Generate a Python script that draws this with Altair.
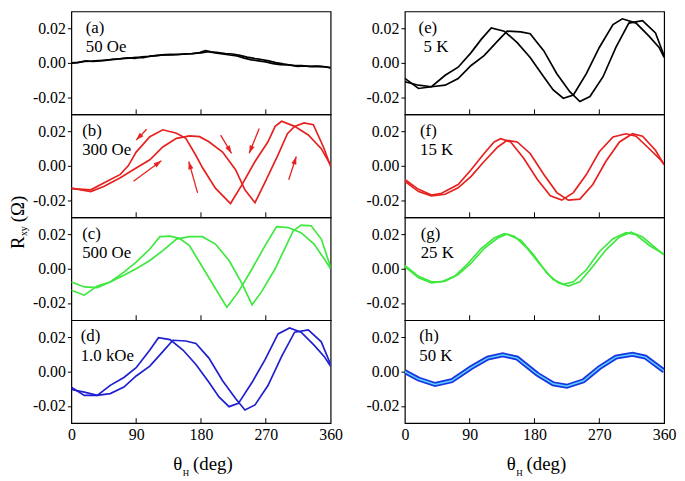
import math
import altair as alt
import pandas as pd

FONT = "Liberation Serif"
W, H = 262, 104
XDOM = [0, 360]
YDOM = [-0.03, 0.03]
XTICKS = [0, 90, 180, 270, 360]
INNER_TICKS = [90, 180, 270]
YTICKS = [-0.02, 0.0, 0.02]

BLACK = "#000000"
RED = "#e6211f"
GREEN = "#3ee83e"
BLUE = "#1f1fd0"
H_DARK = "#1a35e0"
H_LIGHT = "#5ad2ff"

# ---------------- data ----------------
# (a) 50 Oe
A1_DEG = [0, 10, 20, 30, 40, 50, 60, 70, 80, 90, 100, 110, 120, 130, 140, 150, 160, 170, 180, 190,
          200, 210, 220, 230, 240, 250, 260, 270, 280, 290, 300, 310, 320, 330, 340, 350, 360]
A1_VAL = [0.0000, 0.0003, 0.0012, 0.0008, 0.0012, 0.0018, 0.0020, 0.0025, 0.0028, 0.0032, 0.0030,
          0.0040, 0.0044, 0.0048, 0.0047, 0.0050, 0.0052, 0.0055, 0.0058, 0.0066, 0.0058, 0.0052,
          0.0046, 0.0040, 0.0028, 0.0018, 0.0012, 0.0006, -0.0004, -0.0010, -0.0012, -0.0016,
          -0.0015, -0.0020, -0.0018, -0.0022, -0.0028]
A2_DEG = [0, 8, 18, 28, 38, 48, 58, 68, 78, 88, 98, 108, 118, 128, 138, 148, 158, 168, 178, 186,
          194, 204, 214, 224, 234, 244, 254, 264, 274, 284, 294, 304, 314, 324, 334, 344, 354, 360]
A2_VAL = [-0.0002, 0.0002, 0.0008, 0.0010, 0.0014, 0.0015, 0.0022, 0.0024, 0.0030, 0.0026, 0.0036,
          0.0038, 0.0042, 0.0046, 0.0050, 0.0049, 0.0053, 0.0054, 0.0060, 0.0072, 0.0064, 0.0060,
          0.0055, 0.0052, 0.0044, 0.0034, 0.0026, 0.0020, 0.0012, 0.0002, -0.0006, -0.0012,
          -0.0020, -0.0018, -0.0022, -0.0020, -0.0024, -0.0030]

# (b) 300 Oe
B1_DEG = [0, 27, 45, 68, 79, 90, 109, 127, 146, 159, 173, 182, 200, 221, 237, 255, 273, 283, 292,
          310, 329, 347, 360]
B1_VAL = [-0.0133, -0.0140, -0.0100, -0.0050, 0.0000, 0.0080, 0.0170, 0.0210, 0.0190, 0.0160,
          0.0060, -0.0010, -0.0130, -0.0220, -0.0110, 0.0025, 0.0140, 0.0230, 0.0260, 0.0230,
          0.0180, 0.0100, 0.0005]
B2_DEG = [0, 27, 45, 68, 90, 109, 127, 146, 164, 178, 191, 210, 228, 241, 255, 269, 287, 300, 310,
          323, 336, 350, 360]
B2_VAL = [-0.0130, -0.0150, -0.0120, -0.0070, -0.0013, 0.0035, 0.0110, 0.0160, 0.0175, 0.0170,
          0.0140, 0.0080, -0.0023, -0.0140, -0.0215, -0.0095, 0.0064, 0.0187, 0.0230, 0.0250,
          0.0240, 0.0110, -0.0004]

# (c) 500 Oe
C1_DEG = [0, 18, 36, 54, 73, 90, 109, 123, 137, 150, 164, 182, 200, 216, 232, 251, 269, 285, 301,
          319, 337, 351, 360]
C1_VAL = [-0.0125, -0.0154, -0.0100, -0.0077, -0.0020, 0.0038, 0.0115, 0.0187, 0.0190, 0.0177,
          0.0135, 0.0010, -0.0115, -0.0225, -0.0135, 0.0000, 0.0135, 0.0246, 0.0240, 0.0210,
          0.0144, 0.0058, 0.0000]
C2_DEG = [0, 18, 36, 54, 73, 90, 109, 127, 146, 164, 182, 200, 219, 237, 251, 264, 283, 296, 308,
          319, 333, 347, 360]
C2_VAL = [-0.0077, -0.0106, -0.0110, -0.0077, -0.0038, 0.0000, 0.0048, 0.0106, 0.0173, 0.0187,
          0.0187, 0.0144, 0.0048, -0.0087, -0.0210, -0.0135, 0.0000, 0.0115, 0.0220, 0.0254,
          0.0250, 0.0173, 0.0010]

# (d) 1.0 kOe
D1_DEG = [0, 18, 36, 54, 73, 90, 109, 121, 137, 155, 173, 191, 205, 219, 232, 251, 269, 287, 303,
          319, 337, 351, 360]
D1_VAL = [-0.0090, -0.0138, -0.0138, -0.0080, -0.0034, 0.0023, 0.0126, 0.0198, 0.0187, 0.0126,
          0.0042, -0.0062, -0.0147, -0.0204, -0.0185, -0.0062, 0.0070, 0.0220, 0.0255, 0.0230,
          0.0155, 0.0089, 0.0032]
D2_DEG = [0, 18, 36, 54, 73, 90, 109, 127, 141, 159, 173, 191, 210, 228, 241, 255, 273, 292, 310,
          329, 347, 360]
D2_VAL = [-0.0104, -0.0119, -0.0138, -0.0128, -0.0090, -0.0025, 0.0032, 0.0117, 0.0183, 0.0179,
          0.0164, 0.0079, -0.0053, -0.0157, -0.0223, -0.0194, -0.0081, 0.0089, 0.0230, 0.0243,
          0.0174, 0.0042]

# (e) 5 K
E1_DEG = [0, 19, 37, 56, 74, 92, 106, 120, 138, 156, 174, 193, 206, 220, 234, 252, 270, 289, 302,
          321, 339, 353, 360]
E1_VAL = [-0.0090, -0.0149, -0.0139, -0.0072, -0.0025, 0.0060, 0.0137, 0.0204, 0.0185, 0.0118,
          0.0032, -0.0082, -0.0158, -0.0206, -0.0187, -0.0063, 0.0090, 0.0223, 0.0257, 0.0232,
          0.0156, 0.0090, 0.0032]
E2_DEG = [0, 19, 37, 56, 74, 92, 110, 129, 142, 161, 174, 193, 211, 229, 243, 257, 275, 293, 311,
          330, 348, 360]
E2_VAL = [-0.0110, -0.0130, -0.0139, -0.0130, -0.0091, -0.0015, 0.0042, 0.0128, 0.0185, 0.0181,
          0.0170, 0.0070, -0.0063, -0.0168, -0.0225, -0.0196, -0.0082, 0.0090, 0.0232, 0.0246,
          0.0175, 0.0042]

# (f) 15 K
F1_DEG = [0, 19, 37, 51, 74, 92, 110, 124, 133, 147, 165, 184, 202, 218, 234, 252, 270, 289, 307,
          321, 339, 353, 360]
F1_VAL = [-0.0080, -0.0137, -0.0170, -0.0160, -0.0109, -0.0023, 0.0072, 0.0139, 0.0158, 0.0139,
          0.0044, -0.0080, -0.0175, -0.0200, -0.0156, -0.0051, 0.0082, 0.0168, 0.0187, 0.0173,
          0.0101, 0.0044, 0.0010]
F2_DEG = [0, 19, 37, 56, 74, 92, 110, 129, 142, 156, 174, 193, 211, 227, 243, 261, 279, 298, 316,
          330, 348, 360]
F2_VAL = [-0.0090, -0.0150, -0.0175, -0.0166, -0.0128, -0.0061, 0.0025, 0.0110, 0.0149, 0.0139,
          0.0072, -0.0051, -0.0156, -0.0200, -0.0194, -0.0109, 0.0025, 0.0139, 0.0187, 0.0173,
          0.0091, 0.0006]

# (g) 25 K
G1_DEG = [0, 19, 37, 51, 69, 88, 106, 124, 138, 152, 170, 188, 206, 220, 234, 252, 270, 289, 307,
          321, 339, 360]
G1_VAL = [0.0019, -0.0044, -0.0076, -0.0076, -0.0044, 0.0032, 0.0118, 0.0179, 0.0204, 0.0190,
          0.0118, 0.0023, -0.0063, -0.0091, -0.0076, -0.0006, 0.0099, 0.0175, 0.0210, 0.0198,
          0.0137, 0.0084]
G2_DEG = [0, 19, 37, 56, 74, 92, 110, 129, 142, 161, 179, 197, 213, 227, 243, 261, 279, 298, 314,
          330, 348, 360]
G2_VAL = [0.0013, -0.0053, -0.0082, -0.0072, -0.0034, 0.0032, 0.0118, 0.0179, 0.0202, 0.0166,
          0.0080, -0.0025, -0.0082, -0.0101, -0.0076, 0.0013, 0.0109, 0.0185, 0.0213, 0.0185,
          0.0122, 0.0080]

# (h) 50 K
H_DEG = [0, 19, 42, 65, 92, 115, 136, 156, 184, 206, 225, 248, 270, 293, 316, 334, 360]
H_VAL = [0.0000, -0.0043, -0.0075, -0.0053, 0.0023, 0.0079, 0.0098, 0.0079, -0.0015, -0.0071,
         -0.0085, -0.0053, 0.0023, 0.0085, 0.0101, 0.0085, 0.0004]

LABELS = ["(a)", "(b)", "(c)", "(d)", "(e)", "(f)", "(g)", "(h)"]
SUBS = ["50 Oe", "300 Oe", "500 Oe", "1.0 kOe", "5 K", "15 K", "25 K", "50 K"]
LABEL_X = [20, 15, 15, 13, 19, 21, 22, 20]
SUB_X = [20, 15, 15, 13, 26, 21, 22, 20]
LABEL_Y = 0.0205
SUB_Y = 0.0090

# arrows in (b): tail -> tip
ARROW_X0 = [104.6, 86.3, 175.3, 207.3, 260.8, 301.8]
ARROW_Y0 = [0.0213, -0.0090, -0.0158, 0.0179, 0.0217, -0.0081]
ARROW_X1 = [90.0, 125.0, 163.0, 222.4, 247.0, 312.3]
ARROW_Y1 = [0.0150, 0.0029, 0.0025, 0.0073, 0.0073, 0.0054]

YTITLE = ["R", "xy", "(Ω)"]
XTITLE = ["θ", "H", "(deg)"]

# ---------------- helpers ----------------
xscale = alt.Scale(domain=XDOM, nice=False, zero=False)
yscale = alt.Scale(domain=YDOM, nice=False, zero=False)

Y_LABEL_EXPR = ("datum.value < 0 ? '-' + format(-datum.value, '.2f') : "
                "format(datum.value, '.2f')")


def axes(bottom):
    if bottom:
        xa = alt.Axis(values=XTICKS, ticks=False, domain=False, grid=False, labelFontSize=16,
                      labelFont=FONT, labelPadding=4, labelFlush=False, labelColor="black",
                      labelOverlap=False, title=None, format="d")
    else:
        xa = None
    ya = alt.Axis(values=YTICKS, tickSize=4, tickColor="black", tickWidth=1, domain=False,
                  grid=False, labelFontSize=16, labelFont=FONT, labelPadding=2,
                  labelColor="black", labelFlush=False, labelOverlap=False, title=None,
                  labelExpr=Y_LABEL_EXPR)
    return xa, ya


def enc(ch, xa, ya, xf="deg", yf="val"):
    return ch.encode(
        x=alt.X(f"{xf}:Q", scale=xscale, axis=xa),
        y=alt.Y(f"{yf}:Q", scale=yscale, axis=ya),
    )


def panel(idx, curves, color, bottom, width=1.7, light=None, extra=None):
    xa, ya = axes(bottom)
    rows = []
    for ci, (degs, vals) in enumerate(curves):
        for d, v in zip(degs, vals):
            rows.append({"deg": d, "val": v, "curve": ci})
    df = pd.DataFrame(rows)
    layers = []
    layers.append(enc(alt.Chart(df).mark_line(color=color, strokeWidth=width, clip=True), xa, ya)
                  .encode(detail="curve:N"))
    if light is not None:
        layers.append(enc(alt.Chart(df).mark_line(color=light, strokeWidth=1.5, clip=True), xa, ya)
                      .encode(detail="curve:N"))
    # inward ticks along bottom edge
    tdf = pd.DataFrame({"deg": INNER_TICKS})
    layers.append(alt.Chart(tdf).mark_rule(color="black", strokeWidth=1).encode(
        x=alt.X("deg:Q", scale=xscale, axis=xa), y=alt.value(H), y2=alt.value(H - 5)))
    # panel labels
    ldf = pd.DataFrame({"deg": [LABEL_X[idx], SUB_X[idx]], "val": [LABEL_Y, SUB_Y],
                        "txt": [LABELS[idx], SUBS[idx]]})
    layers.append(enc(alt.Chart(ldf).mark_text(font=FONT, fontSize=17, align="left",
                                               baseline="middle", color="black"), xa, ya)
                  .encode(text="txt:N"))
    if extra:
        layers.extend(extra(xa, ya))
    return alt.layer(*layers).properties(width=W, height=H)


def arrows(xa, ya):
    adf = pd.DataFrame({"deg": ARROW_X0, "val": ARROW_Y0, "deg2": ARROW_X1, "val2": ARROW_Y1})
    angs = []
    for x0, y0, x1, y1 in zip(ARROW_X0, ARROW_Y0, ARROW_X1, ARROW_Y1):
        dx = (x1 - x0) * W / 360.0
        dy = (y1 - y0) * H / 0.06
        angs.append(math.degrees(math.atan2(dx, dy)) % 360)
    hdf = pd.DataFrame({"deg": ARROW_X1, "val": ARROW_Y1, "ang": angs})
    rule = alt.Chart(adf).mark_rule(color=RED, strokeWidth=1.3).encode(
        x=alt.X("deg:Q", scale=xscale, axis=xa), y=alt.Y("val:Q", scale=yscale, axis=ya),
        x2="deg2:Q", y2="val2:Q")
    head = enc(alt.Chart(hdf).mark_point(shape="M0,0L0.5,1.5L-0.5,1.5Z", filled=True,
                                          size=110, color=RED, opacity=1, strokeWidth=0), xa, ya
               ).encode(angle=alt.Angle("ang:Q", scale=None))
    return [rule, head]


def ytitle(xa, ya):
    r = alt.Chart(pd.DataFrame({"t": [YTITLE[0]]})).mark_text(
        font=FONT, fontSize=19, angle=270, align="left", baseline="alphabetic",
        color="black").encode(text="t:N", x=alt.value(-48), y=alt.value(32))
    s = alt.Chart(pd.DataFrame({"t": [YTITLE[1]]})).mark_text(
        font=FONT, fontSize=10, angle=270, align="left", baseline="alphabetic",
        color="black").encode(text="t:N", x=alt.value(-45), y=alt.value(19))
    o = alt.Chart(pd.DataFrame({"t": [YTITLE[2]]})).mark_text(
        font=FONT, fontSize=19, angle=270, align="left", baseline="alphabetic",
        color="black").encode(text="t:N", x=alt.value(-48), y=alt.value(5))
    return [r, s, o]


def xtitle(xa, ya):
    out = []
    specs = [(XTITLE[0], 19, 103, H + 47), (XTITLE[1], 9, 112.5, H + 53),
             (XTITLE[2], 19, 123, H + 47)]
    for t, fs, xx, yy in specs:
        out.append(alt.Chart(pd.DataFrame({"t": [t]})).mark_text(
            font=FONT, fontSize=fs, align="left", baseline="alphabetic", color="black").encode(
            text="t:N", x=alt.value(xx), y=alt.value(yy)))
    return out


pa = panel(0, [(A1_DEG, A1_VAL), (A2_DEG, A2_VAL)], BLACK, False)
pb = panel(1, [(B1_DEG, B1_VAL), (B2_DEG, B2_VAL)], RED, False, extra=arrows)
pc = panel(2, [(C1_DEG, C1_VAL), (C2_DEG, C2_VAL)], GREEN, False, extra=ytitle)
pd_ = panel(3, [(D1_DEG, D1_VAL), (D2_DEG, D2_VAL)], BLUE, True, extra=xtitle)
pe = panel(4, [(E1_DEG, E1_VAL), (E2_DEG, E2_VAL)], BLACK, False)
pf = panel(5, [(F1_DEG, F1_VAL), (F2_DEG, F2_VAL)], RED, False)
pg = panel(6, [(G1_DEG, G1_VAL), (G2_DEG, G2_VAL)], GREEN, False)
ph = panel(7, [(H_DEG, H_VAL)], H_DARK, True, width=5, light=H_LIGHT, extra=xtitle)

left = alt.vconcat(pa, pb, pc, pd_, spacing=0, bounds="flush")
right = alt.vconcat(pe, pf, pg, ph, spacing=0, bounds="flush")

chart = alt.hconcat(left, right, spacing=22).properties(
    padding=0, background="white"
).configure_view(stroke="black", strokeWidth=1.2)

chart.save("out.html", embed_options={"renderer": "svg", "actions": False})
